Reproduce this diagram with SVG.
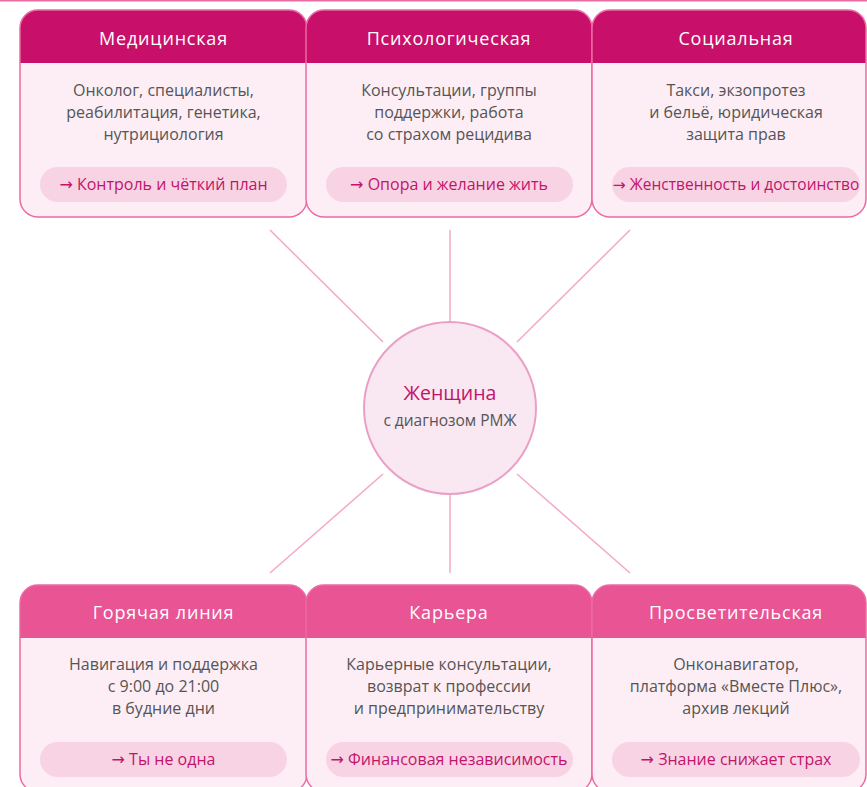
<svg xmlns="http://www.w3.org/2000/svg" width="867" height="787" viewBox="0 0 867 787">
<style>
.card{fill:#fdeef5;}
.border{fill:none;stroke:#ec6aa3;stroke-width:1.5;}
.hdTop{fill:#c80f6a;}
.hdBot{fill:#e85494;}
.pill{fill:#f8d3e4;}
text{font-family:"Open Sans","Noto Sans","DejaVu Sans",sans-serif;text-anchor:middle;}
.ht{fill:#ffffff;font-size:18px;letter-spacing:0.8px;}
.bt{fill:#555555;font-size:16px;}
.pt{fill:#c2146b;font-size:16px;}
.conn{stroke:#f4a8c9;stroke-width:1.5;fill:none;}
</style>
<rect x="0" y="0" width="867" height="787" fill="#ffffff"/>
<line x1="0" y1="0.75" x2="867" y2="0.75" stroke="#ec6aa3" stroke-width="1.5"/>
<g id="connectors">
<line class="conn" x1="270" y1="230" x2="383" y2="342"/>
<line class="conn" x1="450" y1="230" x2="450" y2="322"/>
<line class="conn" x1="630" y1="230" x2="517" y2="342"/>
<line class="conn" x1="383" y1="474" x2="270" y2="573"/>
<line class="conn" x1="450" y1="494" x2="450" y2="573"/>
<line class="conn" x1="517" y1="474" x2="630" y2="573"/>
</g>
<g id="center">
<circle cx="450" cy="408" r="86" fill="#f9e7f1" stroke="#eaa0c6" stroke-width="2"/>
<text x="450" y="400" style="fill:#c2146b;font-size:19.5px;">Женщина</text>
<text x="450" y="426" style="fill:#555555;font-size:15.5px;">с диагнозом РМЖ</text>
</g>
<g id="medical">
<rect class="card" x="20" y="10" width="287" height="207" rx="18"/>
<path class="hdTop" d="M20,63 V28 A18,18 0 0 1 38,10 H289 A18,18 0 0 1 307,28 V63 Z"/>
<rect class="border" x="20" y="10" width="287" height="207" rx="18"/>
<text class="ht" x="163.5" y="45">Медицинская</text>
<text class="bt" x="163.5" y="96">Онколог, специалисты,</text>
<text class="bt" x="163.5" y="118">реабилитация, генетика,</text>
<text class="bt" x="163.5" y="140">нутрициология</text>
<rect class="pill" x="40" y="167" width="247" height="35" rx="17.5"/>
<text class="pt" x="163.5" y="190">→ Контроль и чёткий план</text>
</g>
<g id="psychological">
<rect class="card" x="306" y="10" width="286" height="207" rx="18"/>
<path class="hdTop" d="M306,63 V28 A18,18 0 0 1 324,10 H574 A18,18 0 0 1 592,28 V63 Z"/>
<rect class="border" x="306" y="10" width="286" height="207" rx="18"/>
<text class="ht" x="449" y="45">Психологическая</text>
<text class="bt" x="449" y="96">Консультации, группы</text>
<text class="bt" x="449" y="118">поддержки, работа</text>
<text class="bt" x="449" y="140">со страхом рецидива</text>
<rect class="pill" x="326" y="167" width="247" height="35" rx="17.5"/>
<text class="pt" x="449" y="190">→ Опора и желание жить</text>
</g>
<g id="social">
<rect class="card" x="592" y="10" width="274" height="207" rx="18"/>
<path class="hdTop" d="M592,63 V28 A18,18 0 0 1 610,10 H848 A18,18 0 0 1 866,28 V63 Z"/>
<rect class="border" x="592" y="10" width="274" height="207" rx="18"/>
<text class="ht" x="736" y="45">Социальная</text>
<text class="bt" x="736" y="96">Такси, экзопротез</text>
<text class="bt" x="736" y="118">и бельё, юридическая</text>
<text class="bt" x="736" y="140">защита прав</text>
<rect class="pill" x="612" y="167" width="248" height="35" rx="17.5"/>
<text class="pt" x="736" y="190" style="font-size:15.5px;">→ Женственность и достоинство</text>
</g>
<g id="hotline">
<rect class="card" x="20" y="585" width="287" height="207" rx="18"/>
<path class="hdBot" d="M20,638 V603 A18,18 0 0 1 38,585 H289 A18,18 0 0 1 307,603 V638 Z"/>
<rect class="border" x="20" y="585" width="287" height="207" rx="18"/>
<text class="ht" x="163.5" y="619">Горячая линия</text>
<text class="bt" x="163.5" y="670">Навигация и поддержка</text>
<text class="bt" x="163.5" y="692">с 9:00 до 21:00</text>
<text class="bt" x="163.5" y="714">в будние дни</text>
<rect class="pill" x="40" y="742" width="247" height="35" rx="17.5"/>
<text class="pt" x="163.5" y="765">→ Ты не одна</text>
</g>
<g id="career">
<rect class="card" x="306" y="585" width="286" height="207" rx="18"/>
<path class="hdBot" d="M306,638 V603 A18,18 0 0 1 324,585 H574 A18,18 0 0 1 592,603 V638 Z"/>
<rect class="border" x="306" y="585" width="286" height="207" rx="18"/>
<text class="ht" x="449" y="619">Карьера</text>
<text class="bt" x="449" y="670">Карьерные консультации,</text>
<text class="bt" x="449" y="692">возврат к профессии</text>
<text class="bt" x="449" y="714">и предпринимательству</text>
<rect class="pill" x="326" y="742" width="247" height="35" rx="17.5"/>
<text class="pt" x="449" y="765">→ Финансовая независимость</text>
</g>
<g id="education">
<rect class="card" x="592" y="585" width="274" height="207" rx="18"/>
<path class="hdBot" d="M592,638 V603 A18,18 0 0 1 610,585 H848 A18,18 0 0 1 866,603 V638 Z"/>
<rect class="border" x="592" y="585" width="274" height="207" rx="18"/>
<text class="ht" x="736" y="619">Просветительская</text>
<text class="bt" x="736" y="670">Онконавигатор,</text>
<text class="bt" x="736" y="692">платформа «Вместе Плюс»,</text>
<text class="bt" x="736" y="714">архив лекций</text>
<rect class="pill" x="612" y="742" width="248" height="35" rx="17.5"/>
<text class="pt" x="736" y="765">→ Знание снижает страх</text>
</g>
</svg>
